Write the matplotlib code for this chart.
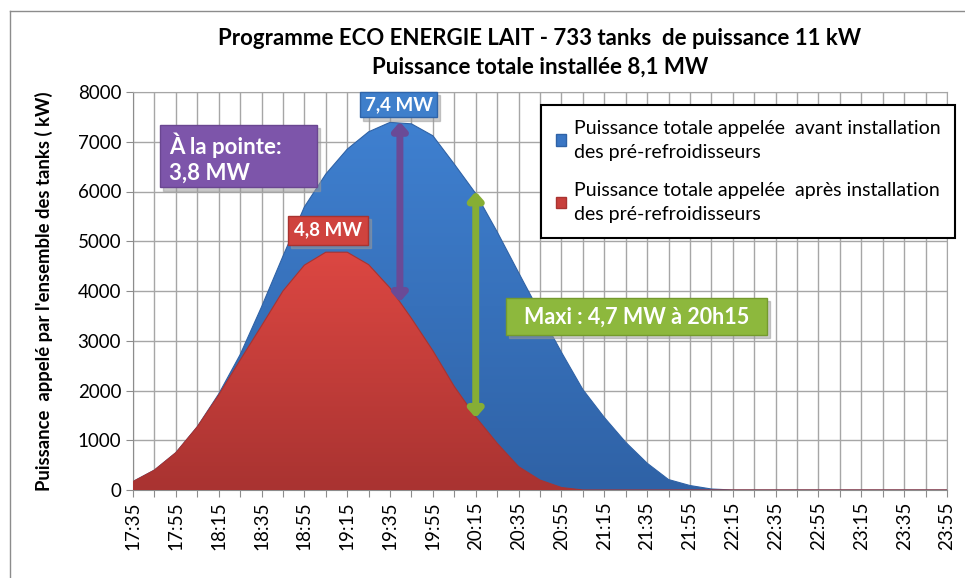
import numpy as np
import matplotlib
matplotlib.use('Agg')
from matplotlib import pyplot as plt
from matplotlib.patches import Rectangle, Patch
from matplotlib.colors import LinearSegmentedColormap
from matplotlib.lines import Line2D

plt.rcParams['font.family'] = ['Lato', 'DejaVu Sans']

# heures (pas de 10 min)
heures = ['17:35', '17:45', '17:55', '18:05', '18:15', '18:25', '18:35', '18:45',
          '18:55', '19:05', '19:15', '19:25', '19:35', '19:45', '19:55', '20:05',
          '20:15', '20:25', '20:35', '20:45', '20:55', '21:05', '21:15', '21:25',
          '21:35', '21:45', '21:55', '22:05', '22:15', '22:25', '22:35', '22:45',
          '22:55', '23:05', '23:15', '23:25', '23:35', '23:45', '23:55']

# puissance appelee avant installation (kW)
avant = [170, 400, 750, 1270, 1930, 2720, 3680, 4700, 5690, 6350, 6850, 7200,
         7390, 7360, 7120, 6550, 5960, 5190, 4370, 3560, 2770, 2020, 1460, 960,
         540, 210, 90, 20, 0, 0, 0, 0, 0, 0, 0, 0, 0, 0, 0]

# puissance appelee apres installation (kW)
apres = [170, 400, 750, 1270, 1910, 2610, 3300, 4000, 4520, 4780, 4780, 4530,
         4060, 3450, 2800, 2080, 1470, 940, 470, 200, 50, 0, 0, 0,
         0, 0, 0, 0, 0, 0, 0, 0, 0, 0, 0, 0, 0, 0, 0]

titre = "Programme ECO ENERGIE LAIT - 733 tanks  de puissance 11 kW\nPuissance totale installée 8,1 MW"
label_avant = "Puissance totale appelée  avant installation\ndes pré-refroidisseurs"
label_apres = "Puissance totale appelée  après installation\ndes pré-refroidisseurs"


def aire_degrade(ax, x, y, haut, bas, zorder):
    """remplit l'aire sous la courbe avec un degrade vertical"""
    poly = ax.fill_between(x, 0, y, color='none', lw=0, zorder=zorder)
    cmap = LinearSegmentedColormap.from_list('g', [bas, haut])
    grad = np.linspace(0, 1, 256).reshape(-1, 1)
    im = ax.imshow(grad, cmap=cmap, aspect='auto', origin='lower',
                   extent=[0, len(x) - 1, 0, max(y)], zorder=zorder)
    path = poly.get_paths()[0]
    im.set_clip_path(path, transform=ax.transData)
    ax.plot(x, y, color=bas, lw=0.8, zorder=zorder + 0.1)


fig = plt.figure(figsize=(9.65, 5.78), dpi=100)
ax = fig.add_axes([133 / 965, 1 - 490 / 578, 814 / 965, 398 / 578])

x = np.arange(len(heures))
aire_degrade(ax, x, avant, '#3F80D0', '#2F62A6', 2)
aire_degrade(ax, x, apres, '#DC4742', '#A93331', 3)

ax.set_xlim(0, len(heures) - 1)
ax.set_ylim(0, 8000)
ax.set_yticks(range(0, 8001, 1000))
ax.set_xticks(x)
ax.set_xticklabels([h if i % 2 == 0 else '' for i, h in enumerate(heures)],
                   rotation=90, fontsize=13.5)
ax.tick_params(axis='y', labelsize=13.5, length=5, color='#8C8C8C')
ax.tick_params(axis='x', length=5, color='#8C8C8C')
ax.grid(True, color='#A6A6A6', lw=1)
ax.set_axisbelow(True)
for s in ax.spines.values():
    s.set_color('#A6A6A6')
ax.spines['bottom'].set_color('#8C8C8C')
ax.spines['left'].set_color('#8C8C8C')

ax.set_ylabel("Puissance  appelé par l'ensemble des tanks ( kW)", fontsize=13.3,
              fontweight='bold')
ax.yaxis.set_label_coords((53 - 133) / 814, 0.5)
fig.text(540 / 965, 1 - 53 / 578, titre, ha='center', va='center', fontsize=16,
         fontweight='bold', linespacing=1.45)

# fleches
ax.annotate('', xy=(12.46, 3780), xytext=(12.46, 7400),
            arrowprops=dict(arrowstyle='<|-|>,head_width=0.4,head_length=0.45',
                            color='#6A4A96', lw=5, shrinkA=0, shrinkB=0), zorder=6)
ax.annotate('', xy=(16.0, 1450), xytext=(16.0, 6000),
            arrowprops=dict(arrowstyle='<|-|>,head_width=0.4,head_length=0.45',
                            color='#86AE35', lw=5, shrinkA=0, shrinkB=0), zorder=6)


def boite(x0, x1, y0, y1, couleur, bord):
    ax.add_patch(Rectangle((x0 + 0.12, y0 - 70), x1 - x0, y1 - y0, color='#999999',
                           alpha=0.5, zorder=7, clip_on=False))
    ax.add_patch(Rectangle((x0, y0), x1 - x0, y1 - y0, facecolor=couleur,
                           edgecolor=bord, lw=1, zorder=8, clip_on=False))


boite(1.26, 8.59, 6090, 7337, '#7D55AA', '#6A4691')
ax.text(1.7, 6935, "À la pointe:", color='white', fontsize=16, fontweight='bold',
        va='center', zorder=9)
ax.text(1.7, 6372, "3,8 MW", color='white', fontsize=16, fontweight='bold',
        va='center', zorder=9)

boite(10.6, 14.19, 7497, 8000, '#3F7FCB', '#2F64A8')
ax.text(12.4, 7749, "7,4 MW", color='white', fontsize=13.5, fontweight='bold',
        ha='center', va='center', zorder=9)

boite(7.24, 10.97, 4925, 5508, '#CF433E', '#A83330')
ax.text(9.1, 5226, "4,8 MW", color='white', fontsize=13.5, fontweight='bold',
        ha='center', va='center', zorder=9)

boite(17.41, 29.6, 3116, 3859, '#8DB83D', '#749A2E')
ax.text(23.5, 3477, "Maxi : 4,7 MW à 20h15", color='white', fontsize=15.5,
        fontweight='bold', ha='center', va='center', zorder=9)

# legende
handles = [Patch(facecolor='#3A76C4', edgecolor='#2F62A6'),
           Patch(facecolor='#C83F3B', edgecolor='#A93331')]
leg = ax.legend(handles, [label_avant, label_apres], loc='upper left',
                bbox_to_anchor=((541 - 133) / 814, (490 - 105) / 398), fontsize=14,
                fancybox=False, edgecolor='black', framealpha=1, handlelength=0.55,
                handleheight=0.55, handletextpad=0.4, labelspacing=1.1,
                borderpad=0.75, borderaxespad=0)
for t in leg.get_texts():
    t.set_linespacing(1.5)
leg.get_frame().set_linewidth(1.5)
leg.set_zorder(10)

# cadre du graphique
fig.add_artist(Line2D([10 / 965, 10 / 965], [0, 1 - 11 / 578], color='#8C8C8C', lw=1))
fig.add_artist(Line2D([10 / 965, 1], [1 - 11 / 578, 1 - 11 / 578], color='#8C8C8C', lw=1))

fig.savefig('out.png', dpi=100)
